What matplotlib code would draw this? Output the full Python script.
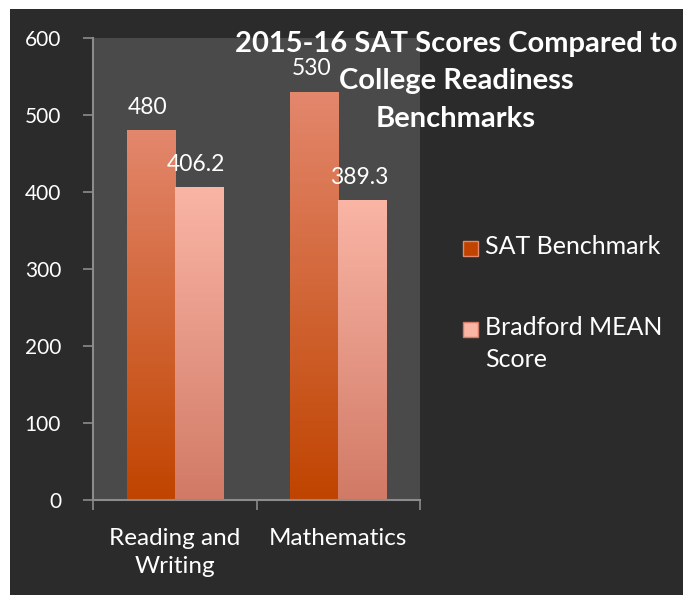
import numpy as np
import matplotlib
matplotlib.use('Agg')
import matplotlib.pyplot as plt
from matplotlib.patches import Rectangle
from matplotlib.colors import LinearSegmentedColormap

plt.rcParams['font.family'] = ['Lato', 'DejaVu Sans']

categories = ['Reading and\nWriting', 'Mathematics']
series = ['SAT Benchmark', 'Bradford MEAN\nScore']
sat_benchmark = [480, 530]
bradford_mean = [406.2, 389.3]
labels = [['480', '530'], ['406.2', '389.3']]
title_lines = ['2015-16 SAT Scores Compared to', 'College Readiness', 'Benchmarks']

BG = '#2b2b2b'
PLOT_BG = '#4a4a4a'
# (top colour, bottom colour) for each series gradient
GRAD = [('#e3876d', '#c04400'), ('#fab5a5', '#d17a66')]

fig = plt.figure(figsize=(6.83, 5.95), dpi=100, facecolor='white')
fig.patches.append(Rectangle((10 / 683, 0), 1, 1 - 9 / 595, transform=fig.transFigure,
                             facecolor=BG, edgecolor='none', zorder=-10))
ax = fig.add_axes([93 / 683, 1 - 500 / 595, (420 - 93) / 683, (500 - 38) / 595])
ax.set_facecolor(PLOT_BG)

x = np.arange(len(categories)) + 0.5
w = 0.294
for k, vals in enumerate([sat_benchmark, bradford_mean]):
    top, bot = GRAD[k]
    cmap = LinearSegmentedColormap.from_list(f'g{k}', [bot, top])
    grad = np.linspace(0, 1, 256).reshape(-1, 1)
    bars = ax.bar(x + (k - 0.5) * w, vals, w, color='none', edgecolor='none', zorder=2)
    for b, v, lab in zip(bars, vals, labels[k]):
        x0 = b.get_x()
        im = ax.imshow(grad, cmap=cmap, origin='lower', aspect='auto',
                       extent=[x0, x0 + w, 0, v], zorder=2)
        im.set_clip_path(b)
        ax.annotate(lab, (x0 + w / 2, v), xytext=(-2, 9), textcoords='offset points',
                    ha='center', va='bottom', color='white', fontsize=16.5)

ax.set_xlim(0, 2)
ax.set_ylim(0, 600)
ax.set_yticks(range(0, 601, 100))
ax.set_xticks(x)
ax.set_xticklabels(categories, fontsize=17.5, color='white', linespacing=1.4)
ax.set_xticks([0, 1, 2], minor=True)
ax.tick_params(axis='x', which='major', length=0, pad=20)
ax.tick_params(axis='x', which='minor', length=7, color='#8c8c8c', width=1.2)
ax.tick_params(axis='y', length=7, color='#8c8c8c', width=1.2, pad=16,
               labelsize=15, labelcolor='white')
for s in ['top', 'right']:
    ax.spines[s].set_visible(False)
for s in ['left', 'bottom']:
    ax.spines[s].set_color('#8c8c8c')
    ax.spines[s].set_linewidth(1.5)

# title as separate lines so the "530" label can sit next to line two
for i, line in enumerate(title_lines):
    fig.text(456 / 683, 1 - (44 + 37.5 * i) / 595, line, ha='center', va='center',
             color='white', fontsize=21, fontweight='bold')

# legend: square aligned with the first line of each label
leg_y = [248, 329]
for k, (name, yy) in enumerate(zip(series, leg_y)):
    top, bot = GRAD[k]
    fig.patches.append(Rectangle((463 / 683, 1 - (yy + 8) / 595), 15 / 683, 15 / 595,
                                 transform=fig.transFigure, facecolor=bot if k == 0 else top,
                                 edgecolor=top if k == 0 else bot, lw=1))
    fig.text(485 / 683, 1 - (yy - 13) / 595, name, ha='left', va='top', color='white',
             fontsize=18, linespacing=1.45)

fig.savefig('out.png', dpi=100, facecolor='white')
